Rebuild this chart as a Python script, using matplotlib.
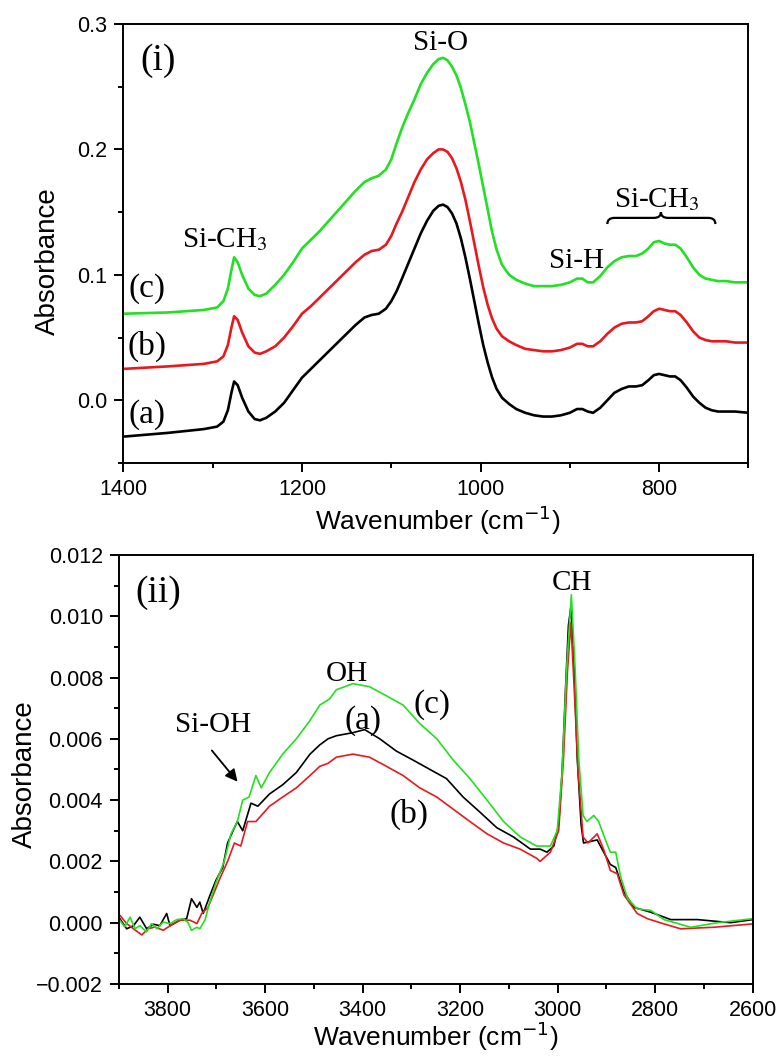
import matplotlib
matplotlib.use("Agg")
import matplotlib.pyplot as plt
from matplotlib.ticker import MultipleLocator, FuncFormatter
from matplotlib.path import Path
from matplotlib.patches import PathPatch, FancyArrowPatch

# ---------------- data: panel (i) ----------------
wn_top = [1400, 1350, 1310, 1295, 1288, 1283, 1279, 1276, 1272, 1267, 1260, 1253, 1247, 1240,
          1230, 1220, 1210, 1200, 1190, 1180, 1170, 1160, 1150, 1140, 1130, 1122, 1114, 1106,
          1100, 1094, 1088, 1081, 1074, 1067, 1060, 1053, 1047, 1042, 1037, 1032, 1027, 1022,
          1017, 1012, 1007, 1002, 997, 992, 987, 982, 976, 968, 960, 950, 940, 930, 920, 910,
          900, 892, 886, 880, 874, 866, 858, 850, 842, 834, 826, 819, 812, 806, 800, 794,
          788, 782, 776, 769, 762, 755, 748, 741, 734, 725, 715, 700]
abs_a_top = [-0.029, -0.026, -0.023, -0.021, -0.017, -0.008, 0.006, 0.015, 0.012, 0.002,
             -0.009, -0.015, -0.016, -0.014, -0.009, -0.002, 0.008, 0.018, 0.025, 0.032,
             0.039, 0.046, 0.053, 0.060, 0.066, 0.068, 0.069, 0.073, 0.079, 0.087, 0.097,
             0.109, 0.121, 0.133, 0.143, 0.151, 0.155, 0.156, 0.154, 0.149, 0.141, 0.129,
             0.114, 0.097, 0.079, 0.061, 0.044, 0.030, 0.018, 0.009, 0.002, -0.003, -0.007,
             -0.010, -0.012, -0.013, -0.013, -0.012, -0.010, -0.007, -0.007, -0.009, -0.010,
             -0.006, 0.000, 0.006, 0.009, 0.011, 0.011, 0.012, 0.016, 0.020, 0.021, 0.020,
             0.019, 0.019, 0.016, 0.010, 0.003, -0.002, -0.006, -0.008, -0.009, -0.009,
             -0.009, -0.010]
abs_b_top = [0.025, 0.027, 0.029, 0.031, 0.035, 0.044, 0.058, 0.067, 0.064, 0.054, 0.043,
             0.038, 0.037, 0.039, 0.043, 0.050, 0.059, 0.069, 0.075, 0.082, 0.089, 0.096,
             0.103, 0.110, 0.116, 0.119, 0.120, 0.124, 0.131, 0.141, 0.150, 0.162, 0.174,
             0.184, 0.192, 0.197, 0.200, 0.200, 0.198, 0.193, 0.185, 0.174, 0.160, 0.143,
             0.125, 0.107, 0.090, 0.076, 0.065, 0.057, 0.051, 0.047, 0.044, 0.041, 0.040,
             0.039, 0.039, 0.040, 0.042, 0.045, 0.045, 0.043, 0.043, 0.047, 0.053, 0.058,
             0.061, 0.062, 0.062, 0.063, 0.067, 0.071, 0.073, 0.072, 0.071, 0.071, 0.068,
             0.062, 0.055, 0.050, 0.048, 0.047, 0.047, 0.047, 0.046, 0.046]
abs_c_top = [0.069, 0.070, 0.072, 0.074, 0.079, 0.089, 0.104, 0.114, 0.110, 0.100, 0.089,
             0.084, 0.083, 0.085, 0.092, 0.100, 0.110, 0.121, 0.128, 0.135, 0.143, 0.151,
             0.159, 0.167, 0.174, 0.177, 0.179, 0.184, 0.192, 0.205, 0.217, 0.229, 0.240,
             0.252, 0.261, 0.268, 0.272, 0.273, 0.271, 0.266, 0.259, 0.249, 0.236, 0.222,
             0.205, 0.188, 0.170, 0.152, 0.134, 0.120, 0.108, 0.100, 0.096, 0.093, 0.091,
             0.091, 0.091, 0.092, 0.094, 0.097, 0.097, 0.094, 0.094, 0.099, 0.106, 0.111,
             0.114, 0.115, 0.115, 0.117, 0.121, 0.126, 0.127, 0.125, 0.124, 0.124, 0.121,
             0.114, 0.106, 0.100, 0.097, 0.096, 0.095, 0.095, 0.094, 0.094]

# ---------------- data: panel (ii) ----------------
wn_a_bot = [3898, 3884, 3870, 3857, 3843, 3829, 3816, 3802, 3795, 3775, 3761, 3751, 3740,
            3734, 3727, 3713, 3701, 3687, 3677, 3663, 3657, 3646, 3629, 3615, 3591, 3564,
            3536, 3508, 3488, 3471, 3454, 3420, 3396, 3365, 3331, 3296, 3262, 3228, 3194,
            3159, 3125, 3091, 3056, 3036, 3022, 3008, 2998, 2991, 2984, 2978, 2973, 2967,
            2960, 2952, 2947, 2919, 2909, 2892, 2881, 2864, 2844, 2809, 2768, 2713, 2645, 2600]
abs_a_bot = [0.00013, -0.0002, -0.0001, 0.00018, -0.0002, -0.00005, -0.0001, 0.0003, -0.0001,
             0.00008, 0.00013, 0.00078, 0.0005, 0.00067, 0.0003, 0.0009, 0.00138, 0.0018,
             0.0026, 0.0031, 0.0033, 0.0030, 0.0039, 0.0038, 0.0042, 0.0045, 0.0049, 0.0055,
             0.0058, 0.0060, 0.0061, 0.0062, 0.0063, 0.0060, 0.0056, 0.0053, 0.0050, 0.0047,
             0.0041, 0.0036, 0.0031, 0.0028, 0.0024, 0.0024, 0.0023, 0.0025, 0.0032, 0.0049,
             0.0076, 0.0097, 0.0103, 0.0087, 0.0054, 0.0032, 0.0026, 0.0027, 0.0024, 0.0019,
             0.0018, 0.0010, 0.0005, 0.00034, 0.0001, 0.0001, 0.0000, 0.0001]

wn_b_bot = [3898, 3884, 3870, 3853, 3840, 3826, 3809, 3795, 3775, 3754, 3740, 3730, 3717,
            3694, 3677, 3663, 3650, 3636, 3619, 3591, 3564, 3536, 3508, 3488, 3471, 3454,
            3420, 3386, 3351, 3317, 3283, 3248, 3214, 3180, 3145, 3111, 3077, 3043, 3036,
            3015, 2998, 2988, 2980, 2973, 2966, 2958, 2948, 2938, 2919, 2906, 2892, 2878,
            2864, 2837, 2816, 2782, 2748, 2680, 2600]
abs_b_bot = [0.00024, -0.00003, -0.0002, -0.0004, -0.0002, -0.00014, -0.00025, -0.0001,
             0.00008, 0.00008, -0.00003, 0.0003, 0.0005, 0.0014, 0.0020, 0.0026, 0.0025,
             0.0033, 0.0033, 0.0038, 0.0041, 0.0044, 0.0048, 0.0051, 0.0052, 0.0054, 0.0055,
             0.0054, 0.0051, 0.0048, 0.0044, 0.0041, 0.0037, 0.0033, 0.0029, 0.0026, 0.0024,
             0.0021, 0.0020, 0.0023, 0.0030, 0.0054, 0.0082, 0.0098, 0.0076, 0.0049, 0.0028,
             0.0026, 0.0029, 0.0024, 0.0017, 0.0016, 0.0009, 0.0003, 0.00013, -0.00004,
             -0.0002, -0.00015, -0.00004]

wn_c_bot = [3898, 3888, 3877, 3867, 3857, 3843, 3833, 3822, 3809, 3795, 3781, 3768, 3758,
            3751, 3740, 3734, 3723, 3715, 3701, 3684, 3670, 3657, 3646, 3633, 3619, 3608,
            3591, 3564, 3536, 3508, 3488, 3468, 3454, 3420, 3386, 3351, 3317, 3283, 3248,
            3214, 3180, 3145, 3111, 3077, 3043, 3015, 3001, 2991, 2982, 2972, 2964, 2957,
            2948, 2940, 2926, 2916, 2902, 2892, 2881, 2871, 2857, 2837, 2809, 2782, 2727,
            2672, 2600]
abs_c_bot = [0.00008, -0.00014, 0.00018, -0.0002, -0.0001, -0.0003, -0.00003, -0.0002,
             0.00002, -0.00003, 0.0001, 0.00013, 0.0000, -0.00025, -0.00015, -0.0002, 0.0001,
             0.0006, 0.0013, 0.0020, 0.0029, 0.0033, 0.0040, 0.0041, 0.0048, 0.0044, 0.0049,
             0.0055, 0.0060, 0.0066, 0.0071, 0.0073, 0.0076, 0.0078, 0.0077, 0.0074, 0.0071,
             0.0065, 0.0060, 0.0053, 0.0047, 0.0040, 0.0033, 0.0028, 0.0025, 0.0025, 0.0030,
             0.0049, 0.0082, 0.0107, 0.0082, 0.0054, 0.0035, 0.0033, 0.0035, 0.0033, 0.0027,
             0.0023, 0.0023, 0.0015, 0.0008, 0.00045, 0.0004, 0.0001, -0.00015, 0.0000, 0.00013]

BLACK = "#000000"
RED = "#e8181e"
GREEN = "#22e022"

SANS = ["Liberation Sans", "DejaVu Sans"]
SERIF = ["Liberation Serif", "DejaVu Serif"]

plt.rcParams["font.family"] = SANS
plt.rcParams["axes.unicode_minus"] = True

fig = plt.figure(figsize=(7.81, 10.57), dpi=100)
ax1 = fig.add_axes([0.1580, 0.5620, 0.8003, 0.4153])
ax2 = fig.add_axes([0.1522, 0.0691, 0.8116, 0.4059])


def fmt(decimals):
    return FuncFormatter(lambda v, pos: f"{v:.{decimals}f}".replace("-", "\u2212"))


def style_axes(ax):
    for s in ax.spines.values():
        s.set_linewidth(1.4)
    ax.tick_params(which="major", direction="out", length=6.5, width=1.4,
                   labelsize=15.5, pad=5, top=False, right=False)
    ax.tick_params(which="minor", direction="out", length=3.5, width=1.4,
                   top=False, right=False)


# ---------------- panel (i) ----------------
ax1.plot(wn_top, abs_a_top, color=BLACK, lw=1.9)
ax1.plot(wn_top, abs_b_top, color=RED, lw=1.9)
ax1.plot(wn_top, abs_c_top, color=GREEN, lw=1.9)
ax1.set_xlim(1400, 700)
ax1.set_ylim(-0.05, 0.3)
ax1.xaxis.set_major_locator(MultipleLocator(200))
ax1.xaxis.set_minor_locator(MultipleLocator(100))
ax1.yaxis.set_major_locator(MultipleLocator(0.1))
ax1.yaxis.set_minor_locator(MultipleLocator(0.05))
ax1.xaxis.set_major_formatter(fmt(0))
ax1.yaxis.set_major_formatter(fmt(1))
style_axes(ax1)
ax1.set_xlabel("Wavenumber (cm$^{-1}$)", fontsize=19, math_fontfamily="dejavusans")
ax1.set_ylabel("Absorbance", fontsize=20)
ax1.xaxis.set_label_coords(0.503, -0.092)
ax1.yaxis.set_label_coords(-0.100, 0.46)

tkw = dict(family=SERIF, ha="center", va="center", math_fontfamily="stix")
ax1.text(1361, 0.271, "(i)", fontsize=27, **tkw)
ax1.text(1374, 0.089, "(c)", fontsize=24, **tkw)
ax1.text(1374, 0.043, "(b)", fontsize=24, **tkw)
ax1.text(1374, -0.0115, "(a)", fontsize=24, **tkw)
ax1.text(1286, 0.128, "Si-CH$_3$", fontsize=21, **tkw)
ax1.text(1045, 0.2845, "Si-O", fontsize=21, **tkw)
ax1.text(892, 0.111, "Si-H", fontsize=21, **tkw)
ax1.text(802, 0.160, "Si-CH$_3$", fontsize=21, **tkw)

# curly brace under the right Si-CH3 label
y_end, y_mid, y_tip = 0.1405, 0.1454, 0.1500
verts = [(858, y_end), (858, y_mid), (850, y_mid), (806, y_mid), (798, y_mid), (798, y_tip),
         (798, y_mid), (790, y_mid), (745, y_mid), (737, y_mid), (737, y_end)]
codes = [Path.MOVETO, Path.CURVE3, Path.CURVE3, Path.LINETO, Path.CURVE3, Path.CURVE3,
         Path.CURVE3, Path.CURVE3, Path.LINETO, Path.CURVE3, Path.CURVE3]
ax1.add_patch(PathPatch(Path(verts, codes), fill=False, lw=1.6, color="black"))

# ---------------- panel (ii) ----------------
ax2.plot(wn_a_bot, abs_a_bot, color=BLACK, lw=1.2)
ax2.plot(wn_b_bot, abs_b_bot, color=RED, lw=1.2)
ax2.plot(wn_c_bot, abs_c_bot, color=GREEN, lw=1.2)
ax2.set_xlim(3900, 2600)
ax2.set_ylim(-0.002, 0.012)
ax2.xaxis.set_major_locator(MultipleLocator(200))
ax2.xaxis.set_minor_locator(MultipleLocator(100))
ax2.yaxis.set_major_locator(MultipleLocator(0.002))
ax2.yaxis.set_minor_locator(MultipleLocator(0.001))
ax2.xaxis.set_major_formatter(fmt(0))
ax2.yaxis.set_major_formatter(fmt(3))
style_axes(ax2)
ax2.set_xlabel("Wavenumber (cm$^{-1}$)", fontsize=19, math_fontfamily="dejavusans")
ax2.set_ylabel("Absorbance", fontsize=20)
ax2.xaxis.set_label_coords(0.50, -0.082)
ax2.yaxis.set_label_coords(-0.128, 0.49)

ax2.text(3819, 0.01077, "(ii)", fontsize=27, **tkw)
ax2.text(3707, 0.00646, "Si-OH", fontsize=21, **tkw)
ax2.text(3432, 0.00812, "OH", fontsize=21, **tkw)
ax2.text(3399, 0.00661, "(a)", fontsize=24, **tkw)
ax2.text(3258, 0.00710, "(c)", fontsize=24, **tkw)
ax2.text(3304, 0.00353, "(b)", fontsize=24, **tkw)
ax2.text(2971, 0.01110, "CH", fontsize=21, **tkw)
ax2.add_patch(FancyArrowPatch((3713, 0.00569), (3653, 0.00453), arrowstyle="-|>",
                              mutation_scale=18, lw=1.3, color="black"))

fig.savefig("out.png", dpi=100)
